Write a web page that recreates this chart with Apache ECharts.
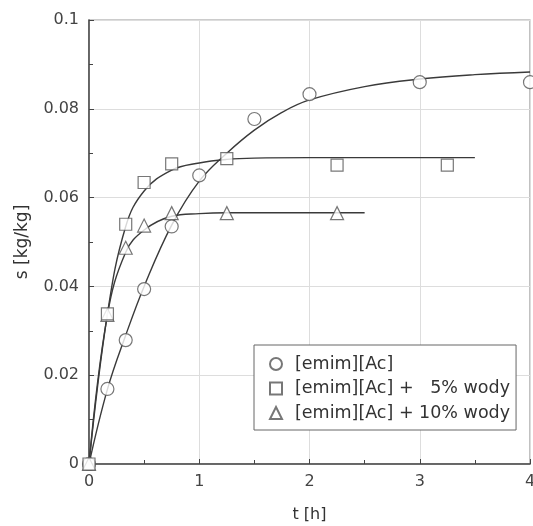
<!DOCTYPE html>
<html>
<head>
<meta charset="utf-8">
<script src="https://cdn.jsdelivr.net/npm/echarts@6/dist/echarts.min.js"></script>
<style>html,body{margin:0;padding:0;background:#fff;overflow:hidden;}#c{width:533px;height:526px;}</style>
</head>
<body>
<div id="c"></div>
<script>
// Measured points
var tCirc = [0, 0.167, 0.333, 0.5, 0.75, 1, 1.5, 2, 3, 4];
var sCirc = [0, 0.0169, 0.0279, 0.0394, 0.0535, 0.065, 0.0777, 0.0833, 0.086, 0.086];
var tSq = [0, 0.167, 0.333, 0.5, 0.75, 1.25, 2.25, 3.25];
var sSq = [0, 0.0338, 0.054, 0.0634, 0.0676, 0.0688, 0.0673, 0.0673];
var tTri = [0, 0.167, 0.333, 0.5, 0.75, 1.25, 2.25];
var sTri = [0, 0.0336, 0.0487, 0.0537, 0.0565, 0.0565, 0.0565];
// Fitted curves
var fitCircT = [0, 0.167, 0.333, 0.5, 0.75, 1, 1.25, 1.5, 1.75, 2, 2.5, 3, 3.5, 4];
var fitCircS = [0, 0.0168, 0.0290, 0.0400, 0.0538, 0.0637, 0.0700, 0.0752, 0.0792, 0.0820, 0.0850, 0.0867, 0.0877, 0.0883];
var fitSqT = [0, 0.167, 0.333, 0.5, 0.75, 1, 1.25, 1.5, 2, 2.5, 3, 3.5];
var fitSqS = [0, 0.0338, 0.0535, 0.0615, 0.0662, 0.0678, 0.0686, 0.0689, 0.069, 0.069, 0.069, 0.069];
var fitTriT = [0, 0.167, 0.333, 0.5, 0.75, 1, 1.25, 1.5, 2, 2.5];
var fitTriS = [0, 0.0336, 0.0477, 0.0527, 0.0558, 0.0564, 0.0566, 0.0566, 0.0566, 0.0566];
var names = ['[emim][Ac]', '[emim][Ac] +   5% wody', '[emim][Ac] + 10% wody'];
var xTicks = [0, 1, 2, 3, 4];
var yTicks = [0, 0.02, 0.04, 0.06, 0.08, 0.1];

function zip(a, b) { return a.map(function (v, i) { return [v, b[i]]; }); }

var font = 'DejaVu Sans';
var lineStyle = { color: '#3a3a3a', width: 1.4 };
var mk = { color: '#fff', borderColor: '#555', borderWidth: 1.2 };

function fitLine(t, s) {
  return { type: 'line', data: zip(t, s), smooth: 0.4, symbol: 'none', lineStyle: lineStyle, silent: true, z: 2, clip: false };
}
function pts(name, sym, size, t, s) {
  return { type: 'scatter', name: name, data: zip(t, s), symbol: sym, symbolSize: size, itemStyle: mk, z: 3, clip: false };
}

var chart = echarts.init(document.getElementById('c'), null, { renderer: 'canvas' });
chart.setOption({
  animation: false,
  backgroundColor: '#fff',
  textStyle: { fontFamily: font },
  grid: { left: 89, right: 3, top: 20, bottom: 62, show: true, borderColor: '#999', borderWidth: 1.2,
    containLabel: false, outerBoundsMode: 'none' },
  xAxis: {
    type: 'value', min: 0, max: 4, interval: 1,
    name: 't [h]', nameLocation: 'middle', nameGap: 43,
    nameTextStyle: { fontFamily: font, fontSize: 16, color: '#333' },
    axisLine: { show: true, lineStyle: { color: '#444', width: 1.5 } },
    axisTick: { show: true, inside: true, length: 5, lineStyle: { color: '#444' } },
    minorTick: { show: true, splitNumber: 2, length: 4, lineStyle: { color: '#444' } },
    splitLine: { show: true, lineStyle: { color: '#ddd', width: 1 } },
    axisLabel: { fontFamily: font, fontSize: 16, color: '#444', margin: 10, showMaxLabel: true,
      formatter: function (v) { return xTicks.indexOf(v) >= 0 ? String(v) : ''; } }
  },
  yAxis: {
    type: 'value', min: 0, max: 0.1, interval: 0.02,
    name: 's [kg/kg]', nameLocation: 'middle', nameGap: 58, nameRotate: 90,
    nameTextStyle: { fontFamily: font, fontSize: 17, color: '#333' },
    axisLine: { show: true, lineStyle: { color: '#444', width: 1.5 } },
    axisTick: { show: true, inside: true, length: 5, lineStyle: { color: '#444' } },
    minorTick: { show: true, splitNumber: 2, length: 4, lineStyle: { color: '#444' } },
    splitLine: { show: true, lineStyle: { color: '#ddd', width: 1 } },
    axisLabel: { fontFamily: font, fontSize: 16, color: '#444', margin: 10,
      formatter: function (v) {
        var r = Math.round(v * 100) / 100;
        for (var i = 0; i < yTicks.length; i++) if (Math.abs(yTicks[i] - r) < 1e-9) return String(yTicks[i]);
        return '';
      } }
  },
  legend: {
    orient: 'vertical', left: 254, top: 345,
    data: names,
    backgroundColor: '#fff', borderColor: '#666', borderWidth: 1,
    padding: [9, 6, 7, 15], itemGap: 4.5, itemWidth: 12, itemHeight: 12,
    textStyle: { fontFamily: font, fontSize: 17.5, color: '#333', lineHeight: 20, padding: [0, 0, 0, 8] }
  },
  series: [
    fitLine(fitCircT, fitCircS),
    fitLine(fitSqT, fitSqS),
    fitLine(fitTriT, fitTriS),
    pts(names[0], 'circle', 13, tCirc, sCirc),
    pts(names[2], 'triangle', 13, tTri, sTri),
    pts(names[1], 'rect', 12, tSq, sSq)
  ]
});
</script>
</body>
</html>
